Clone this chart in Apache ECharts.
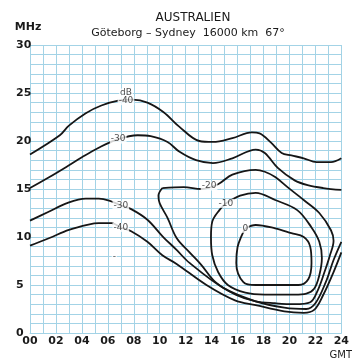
<!DOCTYPE html>
<html><head><meta charset="utf-8">
<script src="https://cdn.jsdelivr.net/npm/echarts@6/dist/echarts.min.js"></script>
<style>html,body{margin:0;padding:0;background:#fff}#c{width:352px;height:359px}</style>
</head><body><div id="c"></div>
<script>
// Axis ticks (GMT hours, MHz)
const xTickLabels = ['00','02','04','06','08','10','12','14','16','18','20','22','24'];
const yTickLabels = [0,5,10,15,20,25,30];

// Contours: [hour GMT, frequency MHz]
const m40Upper = [[0,18.6],[2.3,20.6],[3.0,21.6],[4.3,22.9],[5.5,23.7],[6.8,24.2],[7.9,24.3],[9.05,24.0],[10.3,23.0],[11.5,21.5],[13.05,20.0],[14.1,19.9],[15.6,20.3],[17.1,20.9],[17.7,20.8],[18.6,19.8],[19.4,18.75],[20.15,18.5],[21.1,18.2],[22.1,17.8],[23.2,17.8],[24,18.2]];
const m30Upper = [[0,15.1],[1.5,16.25],[2.8,17.3],[4.0,18.3],[5.3,19.3],[6.6,20.1],[8.3,20.6],[9.3,20.5],[10.6,19.9],[11.5,18.9],[12.8,18.0],[14.1,17.7],[15.6,18.2],[17.4,19.1],[18.1,18.75],[19.1,17.2],[20.4,15.9],[21.4,15.4],[22.6,15.1],[24,14.9]];
const m30Lower = [[0,11.7],[1.4,12.6],[2.8,13.5],[4.3,14.0],[5.3,14.0],[6.1,13.8],[7.0,13.3],[7.8,12.9],[9.05,11.8],[10.2,10.1],[11.3,8.65],[12.3,7.3],[14.9,4.7],[17.4,3.3],[19.6,2.65],[21.3,2.5],[22.0,3.1],[22.8,5.3],[23.4,7.6],[24,9.5]];
const m40Lower = [[0,9.1],[1.5,9.9],[3.0,10.75],[4.5,11.3],[5.3,11.45],[6.3,11.45],[7.0,11.0],[7.8,10.6],[9.05,9.5],[10.2,8.1],[11.3,7.2],[13.6,5.0],[15.8,3.4],[17.4,2.9],[19.6,2.25],[21.1,2.1],[21.9,2.4],[22.6,3.96],[23.4,6.35],[24,8.4]];
const m20Loop = [[10.2,15.1],[11.85,15.2],[13.2,15.0],[14.5,15.5],[15.6,16.5],[17.4,17.0],[18.1,16.8],[18.9,16.25],[19.85,15.2],[21.1,13.85],[22.3,12.5],[23.2,10.7],[23.4,9.6],[23.1,8.0],[22.7,6.35],[22.2,4.5],[21.6,3.2],[20.4,3.0],[18.9,3.1],[17.4,3.3],[15.85,4.0],[14.3,5.3],[13.2,7.1],[12.3,8.4],[11.3,9.9],[10.6,12.0],[10.0,13.5],[9.9,14.3],[10.2,15.1]];
const m10Loop = [[15.1,13.5],[16.2,14.3],[17.4,14.6],[18.9,13.85],[20.6,12.8],[21.7,11.0],[22.3,9.5],[22.5,7.8],[22.3,6.0],[21.9,4.6],[21.3,4.1],[20.4,4.0],[18.1,4.0],[16.6,4.2],[15.25,5.0],[14.5,6.35],[14.05,8.1],[13.95,10.0],[14.05,11.6],[14.6,12.8],[15.1,13.5]];
const zeroLoop = [[16.6,10.9],[17.4,11.25],[18.9,10.9],[20.15,10.4],[21.1,10.0],[21.6,9.0],[21.7,7.3],[21.45,5.6],[20.7,5.0],[17.4,5.0],[16.45,5.3],[15.9,7.3],[16.0,8.96],[16.3,10.1],[16.6,10.9]];

// Contour labels: [hour, MHz, text]
const contourLabels = [[7.4,25.0,'dB'],[7.4,24.2,'-40'],[6.8,20.2,'-30'],[7.0,13.3,'-30'],[7.0,11.0,'-40'],[13.8,15.3,'-20'],[15.1,13.5,'-10'],[16.6,10.9,'0'],[6.5,8.0,'-']];

const FONT = "'DejaVu Sans', sans-serif";
const GRIDC = '#a3d3e6';
const lineStyle = {color:'#161616', width:1.8};
function contour(name, data){
  return {name, type:'line', data, smooth:0.35, symbol:'none', lineStyle, z:3, silent:true, animation:false};
}

const chart = echarts.init(document.getElementById('c'), null, {renderer:'canvas'});
chart.setOption({
  animation:false,
  backgroundColor:'#fff',
  grid:{left:30, right:4, top:45, bottom:26},
  xAxis:{type:'value', min:0, max:24, interval:1,
    axisLine:{show:true, lineStyle:{color:GRIDC}}, axisTick:{show:false},
    splitLine:{show:true, lineStyle:{color:GRIDC, width:1}},
    axisLabel:{margin:3, color:'#1a1a1a', fontFamily:FONT, fontSize:11, fontWeight:'bold',
      formatter:v => (v%2===0 ? xTickLabels[v/2] : '')}},
  yAxis:{type:'value', min:0, max:30, interval:1,
    axisLine:{show:true, lineStyle:{color:GRIDC}}, axisTick:{show:false},
    splitLine:{show:true, lineStyle:{color:GRIDC, width:1}},
    axisLabel:{margin:14, align:'left', color:'#1a1a1a', fontFamily:FONT, fontSize:11, fontWeight:'bold',
      padding:[0,0,7,0],
      formatter:v => (yTickLabels.indexOf(v) >= 0 ? String(v) : '')}},
  graphic:[
    {type:'text', left:'center', top:0, style:{}, silent:true, invisible:true},
    {type:'text', x:193, y:18, style:{text:'AUSTRALIEN', fill:'#1a1a1a', font:"12px 'DejaVu Sans', sans-serif", textAlign:'center', textVerticalAlign:'middle'}},
    {type:'text', x:188, y:33, style:{text:'Göteborg – Sydney  16000 km  67°', fill:'#1a1a1a', font:"11px 'DejaVu Sans', sans-serif", textAlign:'center', textVerticalAlign:'middle'}},
    {type:'text', x:28, y:27, style:{text:'MHz', fill:'#1a1a1a', font:"bold 11px 'DejaVu Sans', sans-serif", textAlign:'center', textVerticalAlign:'middle'}},
    {type:'text', x:352, y:355, style:{text:'GMT', fill:'#1a1a1a', font:"10px 'DejaVu Sans', sans-serif", textAlign:'right', textVerticalAlign:'middle'}}
  ],
  series:[
    contour('-40 upper', m40Upper),
    contour('-30 upper', m30Upper),
    contour('-30 lower', m30Lower),
    contour('-40 lower', m40Lower),
    contour('-20', m20Loop),
    contour('-10', m10Loop),
    contour('0', zeroLoop),
    {type:'scatter', data:contourLabels, symbolSize:0, z:5, silent:true, animation:false,
      label:{show:true, position:'inside', formatter:p => p.value[2], color:'#1a1a1a',
        fontFamily:FONT, fontSize:9, backgroundColor:'#fff', padding:[0,1]}}
  ]
});
</script></body></html>
